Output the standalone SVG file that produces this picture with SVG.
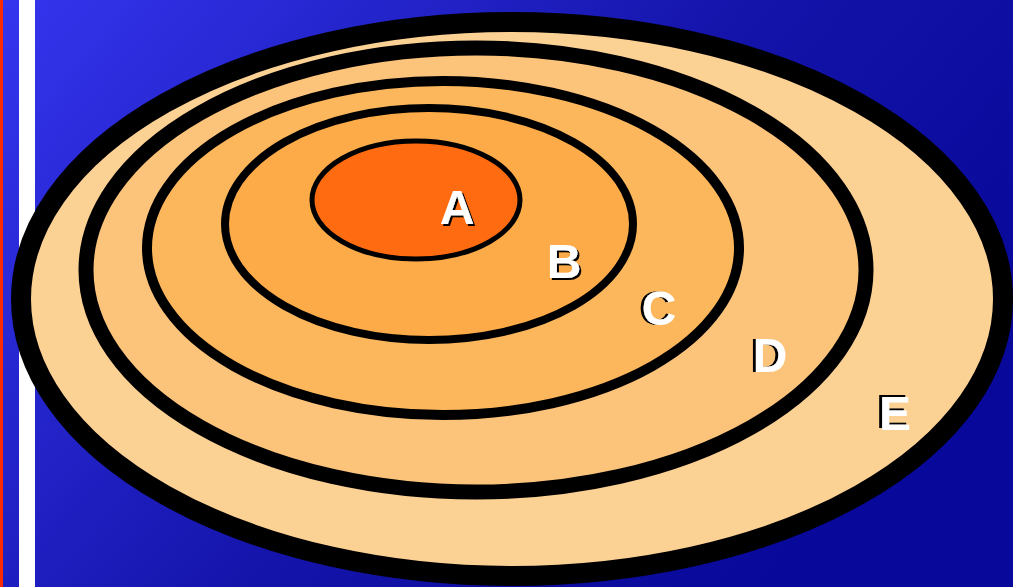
<svg xmlns="http://www.w3.org/2000/svg" width="1013" height="587" viewBox="0 0 1013 587">
<defs>
<linearGradient id="bg" x1="0" y1="0" x2="1" y2="0.5">
<stop offset="0" stop-color="#3535ef"/>
<stop offset="0.6" stop-color="#1414aa"/>
<stop offset="1" stop-color="#08089a"/>
</linearGradient>
<filter id="shBR" x="-20%" y="-20%" width="140%" height="140%">
<feOffset in="SourceAlpha" dx="2" dy="2" result="o"/>
<feMerge><feMergeNode in="o"/><feMergeNode in="SourceGraphic"/></feMerge>
</filter>
<filter id="shL" x="-20%" y="-20%" width="140%" height="140%">
<feOffset in="SourceAlpha" dx="-3" dy="0" result="o"/>
<feMerge><feMergeNode in="o"/><feMergeNode in="SourceGraphic"/></feMerge>
</filter>
<filter id="shTL" x="-20%" y="-20%" width="140%" height="140%">
<feOffset in="SourceAlpha" dx="-3" dy="-2" result="o"/>
<feMerge><feMergeNode in="o"/><feMergeNode in="SourceGraphic"/></feMerge>
</filter>
<style>
.ring{stroke:#000}
.lbl{font-family:"Liberation Sans",Arial,sans-serif;font-weight:bold;font-size:48px;text-anchor:middle;fill:#fff}
</style>
</defs>
<rect x="0" y="0" width="1013" height="587" fill="url(#bg)"/>
<rect x="0" y="0" width="3" height="587" fill="#ff2a00"/>
<rect x="19" y="0" width="16" height="587" fill="#fff"/>
<g id="ring-E"><ellipse class="ring" cx="512" cy="299" rx="491" ry="277" fill="#fcd194" stroke-width="20"/></g>
<g id="ring-D"><ellipse class="ring" cx="476" cy="270" rx="390" ry="222" fill="#fcc37b" stroke-width="15"/></g>
<g id="ring-C"><ellipse class="ring" cx="443" cy="248" rx="296" ry="167" fill="#fcb75c" stroke-width="10"/></g>
<g id="ring-B"><ellipse class="ring" cx="429" cy="224" rx="204" ry="116" fill="#fdab48" stroke-width="8"/></g>
<g id="ring-A"><ellipse class="ring" cx="416" cy="200" rx="104" ry="59" fill="#ff6b10" stroke-width="5"/></g>
<g id="labels">
<text class="lbl" filter="url(#shBR)" x="457" y="224">A</text>
<text class="lbl" filter="url(#shBR)" x="564" y="278">B</text>
<text class="lbl" filter="url(#shL)" x="659" y="325">C</text>
<text class="lbl" filter="url(#shL)" x="770" y="372">D</text>
<text class="lbl" filter="url(#shTL)" x="895" y="430">E</text>
</g>
</svg>
